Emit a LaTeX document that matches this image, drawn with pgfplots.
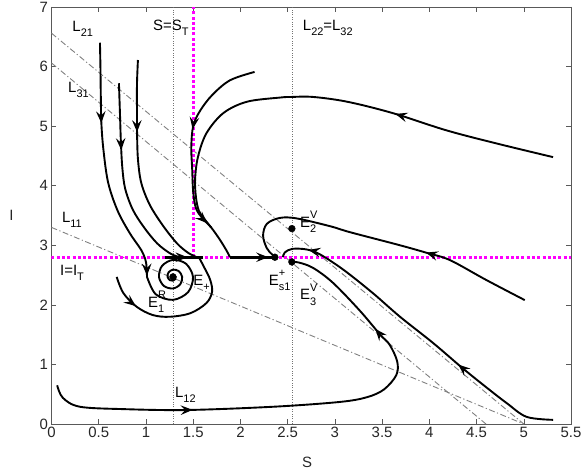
\documentclass[border=0pt]{standalone}
\usepackage{fontspec}
\setmainfont{Liberation Sans}
\usepackage{pgfplots}
\pgfplotsset{compat=1.18}
\usetikzlibrary{decorations.markings,arrows.meta}
\definecolor{magn}{rgb}{1,0,1}
\newcommand\lab{\fontsize{15}{17}\selectfont}
\newcommand\sm{\fontsize{11}{12}\selectfont}
\newcommand\sub[1]{\raisebox{-5.5bp}{\sm #1}}
\newcommand\supsub[2]{\rlap{\raisebox{8.5bp}{\sm #1}}\raisebox{-5.5bp}{\sm #2}}
\tikzset{
  traj/.style={black, line width=1.9pt, smooth, tension=0.55},
  arr/.style={postaction={decorate,decoration={markings,
      mark=at position #1 with {\arrow{Stealth[length=12pt,width=9.5pt,inset=4.5pt]}}}}},
  refl/.style={black!50, line width=0.9pt, dash pattern=on 6pt off 2.5pt on 1.2pt off 2.5pt},
  dotl/.style={black!55, line width=0.6pt, dash pattern=on 0.8pt off 1.6pt},
  sw/.style={magn, line width=3pt, dash pattern=on 3pt off 2.3pt},
}
\begin{document}
\begin{tikzpicture}
\begin{axis}[
  scale only axis, width=519.5bp, height=417bp,
  xmin=0, xmax=5.5, ymin=0, ymax=7,
  xtick={0,0.5,1,1.5,2,2.5,3,3.5,4,4.5,5,5.5},
  xticklabels={0,0.5,1,1.5,2,2.5,3,3.5,4,4.5,5,5.5},
  ytick={0,1,2,3,4,5,6,7},
  tick align=inside, major tick length=5bp,
  tick style={black!65, line width=0.5pt},
  axis line style={black!65, line width=0.6pt},
  ticklabel style={font=\lab, text=black!85},
  /pgf/number format/assume math mode=true,
  xlabel={S}, ylabel={I},
  xlabel style={font=\lab, text=black!85, at={(axis description cs:0.492,-0.091)}, anchor=center},
  ylabel style={font=\lab, text=black!85, rotate=-90, at={(axis description cs:-0.077,0.501)}, anchor=center},
  clip=true,
]
\coordinate (bl) at (rel axis cs:0,0);
\coordinate (tr) at (rel axis cs:1,1);
% reference lines
\addplot[refl] coordinates {(0,6.56) (5.0,0)};
\addplot[refl] coordinates {(0,6.06) (4.6,0)};
\addplot[refl] coordinates {(0,3.3) (5.0,0)};
\addplot[dotl] coordinates {(1.286,0) (1.286,7)};
\addplot[dotl] coordinates {(2.545,0) (2.545,7)};
\addplot[sw] coordinates {(0,2.8) (5.5,2.8)};
\addplot[sw] coordinates {(1.5,2.8) (1.5,7)};
% trajectories from top left
\addplot[traj, arr=0.33, arr=0.995] coordinates {(0.513,6.40) (0.518,6.0) (0.522,5.5) (0.528,5.05) (0.55,4.6) (0.6,4.05) (0.7,3.58) (0.83,3.2) (0.95,2.92) (1.0,2.72) (1.011,2.47)};
\addplot[traj, arr=0.34] coordinates {(0.714,5.72) (0.725,5.2) (0.735,4.72) (0.75,4.3) (0.78,3.95) (0.86,3.6) (0.98,3.3) (1.12,3.03) (1.26,2.86) (1.36,2.8)};
\addplot[traj, arr=0.33] coordinates {(0.915,6.11) (0.905,5.7) (0.905,5.2) (0.906,4.88) (0.915,4.45) (0.95,4.05) (1.04,3.68) (1.18,3.33) (1.33,3.03) (1.45,2.87) (1.54,2.8)};
% spiral
\addplot[traj] coordinates {(1.011,2.470) (1.103,2.179) (1.286,2.084) (1.447,2.215) (1.498,2.470) (1.424,2.690) (1.286,2.755) (1.170,2.654) (1.138,2.470) (1.190,2.318) (1.286,2.275) (1.364,2.347) (1.383,2.470) (1.347,2.567) (1.286,2.591) (1.239,2.545) (1.229,2.470) (1.252,2.415) (1.286,2.405) (1.310,2.432) (1.314,2.470) (1.302,2.495) (1.286,2.497) (1.277,2.484) (1.278,2.470) (1.282,2.464) (1.286,2.467)};
\addplot[traj, arr=0.22] coordinates {(0.69,2.47) (0.76,2.2) (0.9,1.97) (1.07,1.83) (1.25,1.8) (1.47,1.86) (1.64,2.03) (1.7,2.22) (1.68,2.42) (1.62,2.62) (1.56,2.8)};
% arcs on the right of S=1.5
\addplot[traj, arr=0.39, arr=0.82] coordinates {(2.15,5.91) (1.89,5.77) (1.7,5.52) (1.57,5.25) (1.5,5.0) (1.48,4.65) (1.49,4.26) (1.5,3.9) (1.53,3.62) (1.6,3.45) (1.69,3.3) (1.78,3.1) (1.85,2.92) (1.89,2.8)};
\addplot[traj, arr=0.35] coordinates {(5.31,4.48) (4.71,4.71) (4.18,4.93) (3.61,5.22) (3.13,5.41) (2.77,5.49) (2.54,5.49) (2.42,5.48) (2.07,5.41) (1.82,5.22) (1.64,4.88) (1.55,4.48) (1.52,4.1) (1.53,3.8) (1.56,3.58) (1.62,3.44) (1.69,3.3)};
% sliding segments
\addplot[black, line width=2.8pt, arr=0.6] coordinates {(1.2,2.8) (1.6,2.8)};
\addplot[black, line width=2.8pt, arr=0.85] coordinates {(1.89,2.8) (2.365,2.8)};
% right side
\addplot[traj, arr=0.35] coordinates {(5.01,2.08) (4.6,2.42) (4.22,2.75) (3.98,2.87) (3.69,3.0) (3.16,3.22) (2.95,3.32) (2.6,3.45) (2.42,3.46) (2.28,3.36) (2.24,3.16) (2.28,2.95) (2.34,2.84) (2.38,2.8)};
\addplot[traj, arr=0.34, arr=0.91] coordinates {(5.31,0.07) (5.03,0.12) (4.82,0.35) (4.6,0.62) (4.35,0.94) (4.04,1.36) (3.69,1.8) (3.4,2.2) (3.09,2.59) (2.84,2.85) (2.7,2.93) (2.55,2.94) (2.47,2.88) (2.45,2.8)};
\addplot[traj, arr=0.28, arr=0.79] coordinates {(0.06,0.65) (0.12,0.44) (0.3,0.29) (0.76,0.25) (1.43,0.235) (2.35,0.29) (3.05,0.37) (3.34,0.45) (3.52,0.58) (3.65,0.82) (3.66,1.05) (3.58,1.33) (3.48,1.5) (3.26,1.91) (2.98,2.37) (2.77,2.62) (2.62,2.71) (2.545,2.72)};
% equilibria
\addplot[only marks, mark=*, mark size=3.4bp, black] coordinates {(2.545,3.28) (2.545,2.72) (2.365,2.8) (1.286,2.47)};
% labels
\node[font=\lab, inner sep=0, anchor=base west] at (axis cs:0.22,6.59) {L\sub{21}};
\node[font=\lab, inner sep=0, anchor=base west] at (axis cs:0.175,5.57) {L\sub{31}};
\node[font=\lab, inner sep=0, anchor=base west] at (axis cs:0.11,3.39) {L\sub{11}};
\node[font=\lab, inner sep=0, anchor=base west] at (axis cs:0.09,2.5) {I=I\sub{T}};
\node[font=\lab, inner sep=0, anchor=base west] at (axis cs:1.074,6.61) {S=S\sub{T}};
\node[font=\lab, inner sep=0, anchor=base west] at (axis cs:2.66,6.61) {L\sub{22}=L\sub{32}};
\node[font=\lab, inner sep=0, anchor=base west] at (axis cs:2.63,3.3) {E\supsub{V}{2}};
\node[font=\lab, inner sep=0, anchor=base west] at (axis cs:2.30,2.33) {E\supsub{+}{s1}};
\node[font=\lab, inner sep=0, anchor=base west] at (axis cs:2.63,2.09) {E\supsub{V}{3}};
\node[font=\lab, inner sep=0, anchor=base west] at (axis cs:1.02,1.96) {E\supsub{R}{1}};
\node[font=\lab, inner sep=0, anchor=base west] at (axis cs:1.50,2.33) {E\sub{+}};
\node[font=\lab, inner sep=0, anchor=base west] at (axis cs:1.307,0.45) {L\sub{12}};
\end{axis}
\pgfresetboundingbox
\path ([xshift=-51.5bp,yshift=-48bp]bl) rectangle ([xshift=13bp,yshift=7bp]tr);
\end{tikzpicture}
\end{document}
